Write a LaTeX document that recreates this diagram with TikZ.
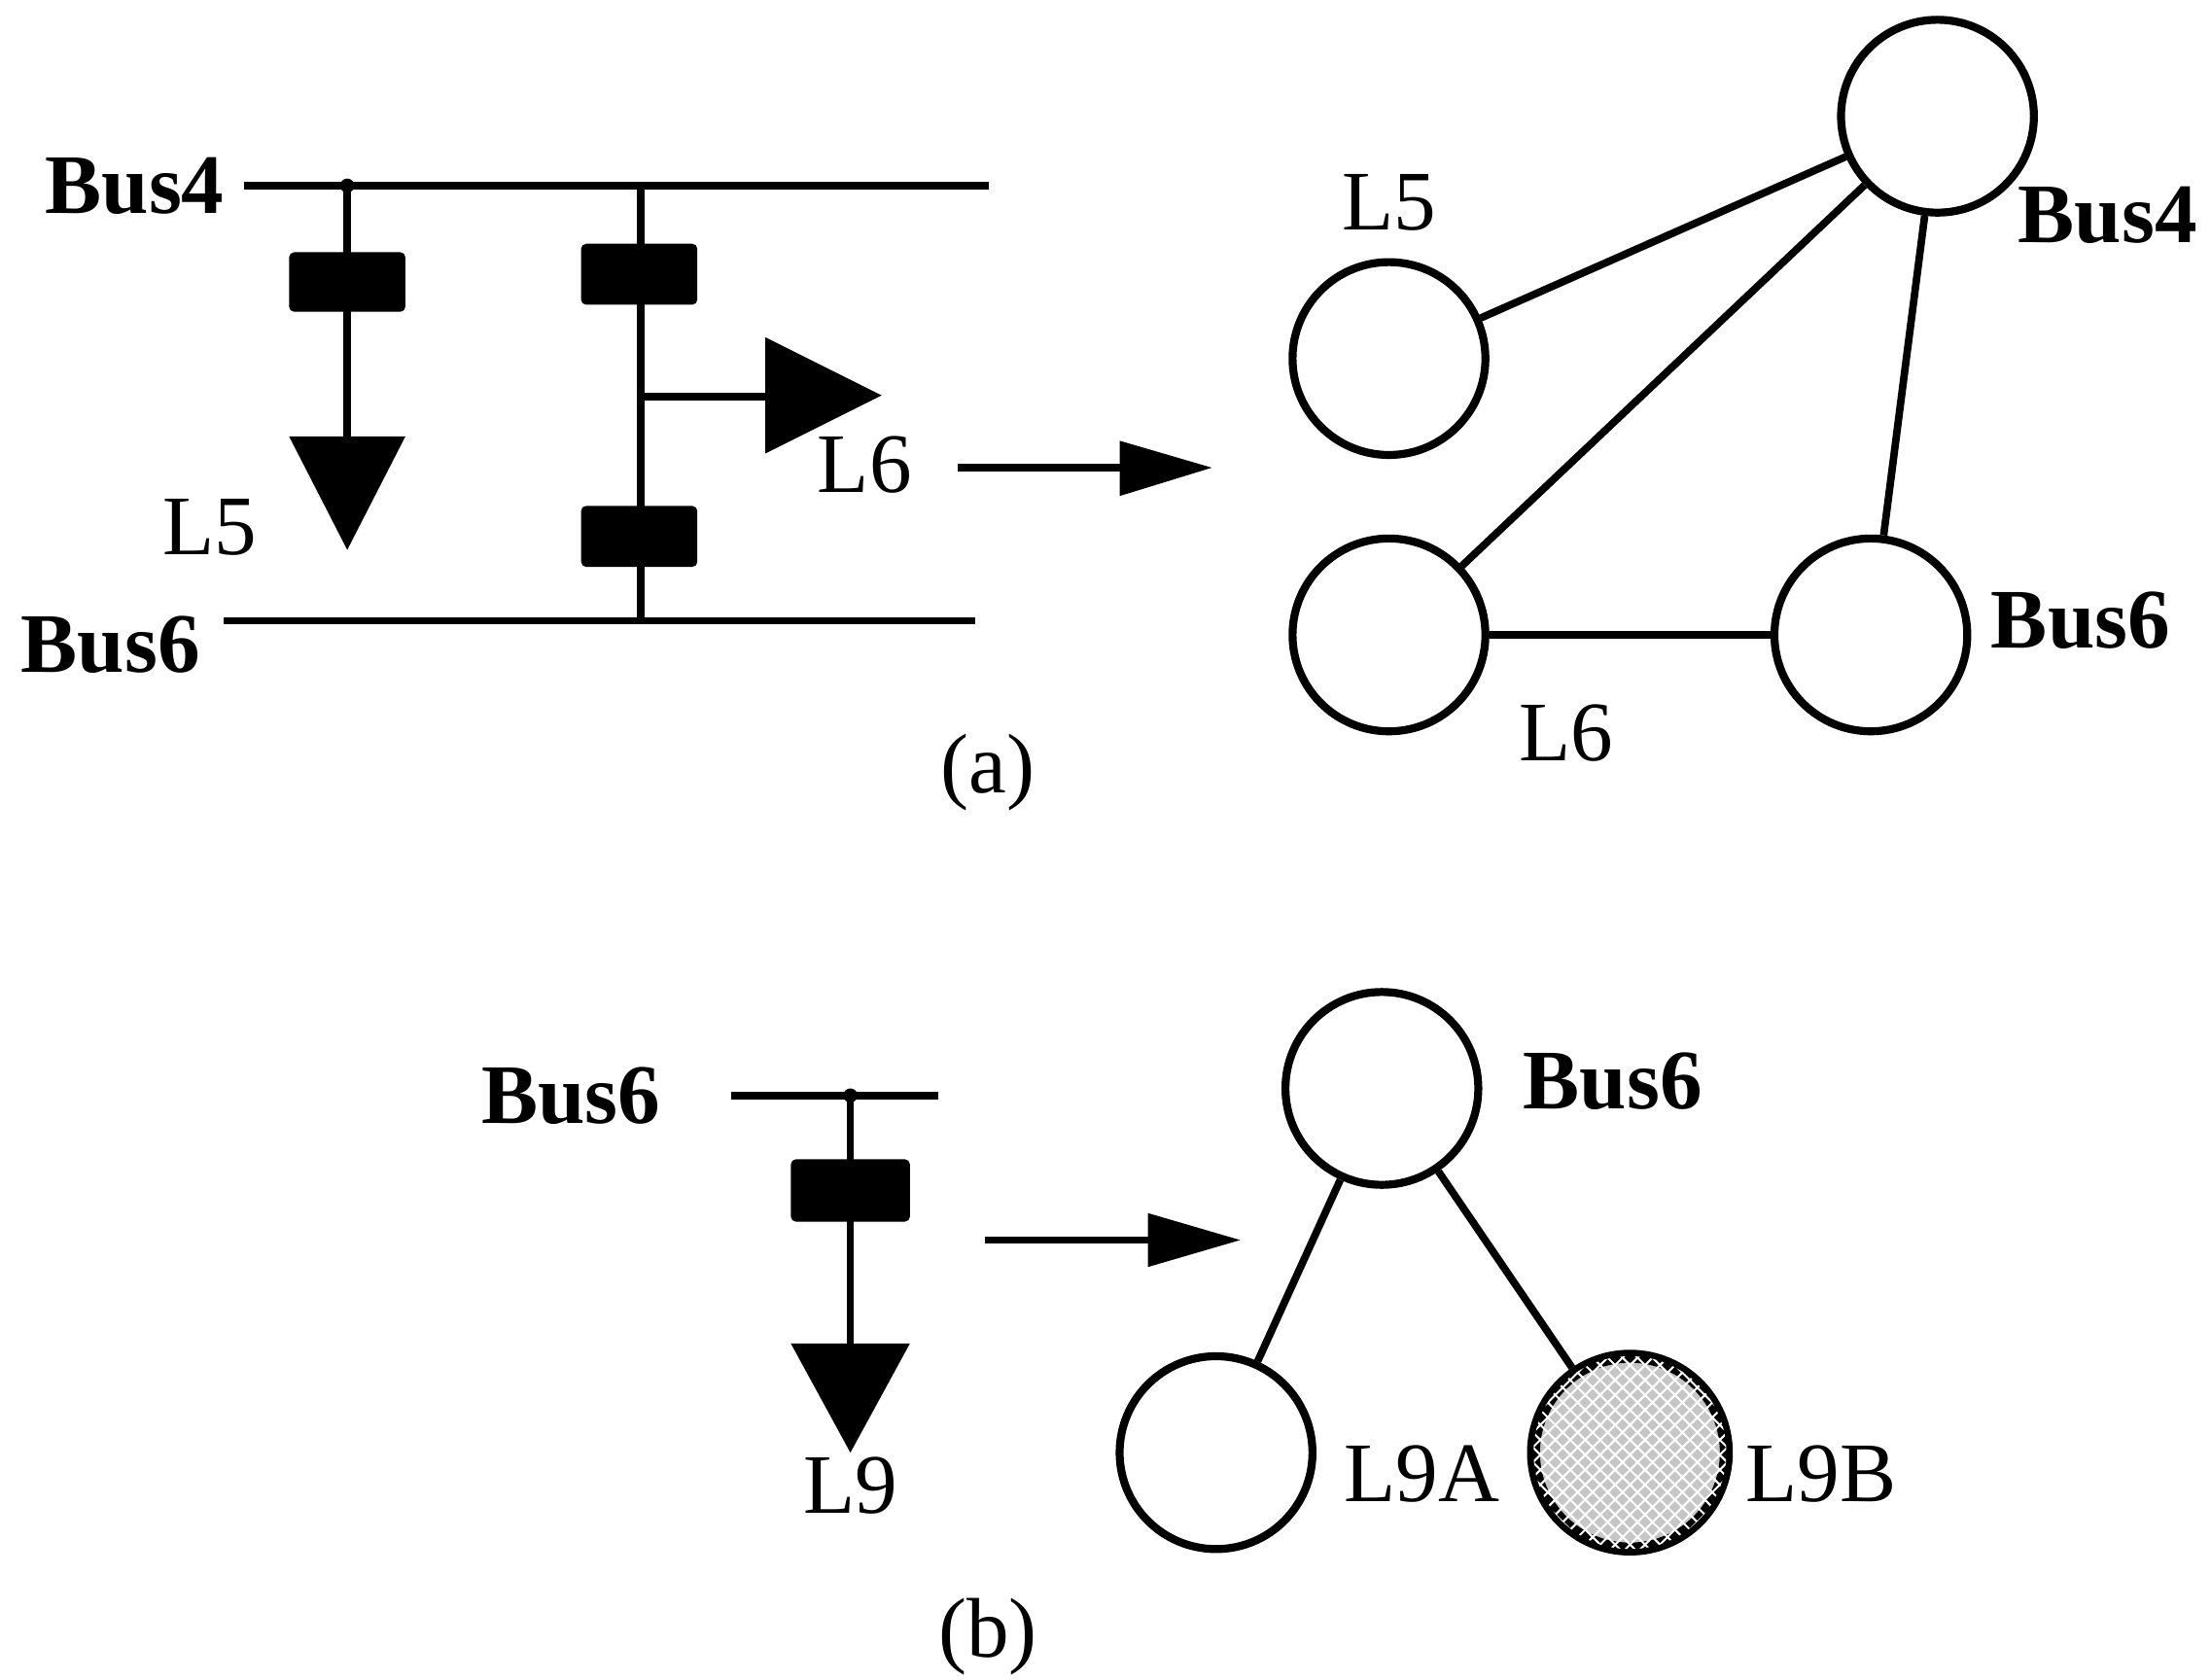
\documentclass[tikz,border=0pt]{standalone}
\usepackage{fontspec}
\setmainfont{Liberation Serif}
\usetikzlibrary{patterns}
\begin{document}
\begin{tikzpicture}[x=0.01cm,y=-0.01cm,line width=1.5pt,
  lab/.style={font=\fontsize{17}{20}\selectfont},
  blab/.style={font=\fontsize{17}{20}\selectfont\bfseries},
  nd/.style={circle,draw,line width=1.6pt,minimum size=1.36cm,inner sep=0},
  blk/.style={fill=black,rounded corners=1pt},
  tri/.style={fill=black}]
\useasboundingbox (0,0) rectangle (1560,1185);
% (a) left
\draw (172,131) -- (698,131);
\node[blab] at (95,131) {Bus4};
\fill (245,131) circle (5);
\draw (245,131) -- (245,320);
\fill[blk] (204,178) rectangle (286,220);
\fill[tri] (204,308) -- (286,308) -- (245,388) -- cycle;
\node[lab] at (148,372) {L5};
\draw (452,131) -- (452,438);
\fill[blk] (410,172) rectangle (492,215);
\fill[blk] (410,357) rectangle (492,400);
\draw (452,280) -- (550,280);
\fill[tri] (540,238) -- (540,320) -- (622,279) -- cycle;
\node[lab] at (610,328) {L6};
\draw (158,438) -- (688,438);
\node[blab] at (78,455) {Bus6};
\coordinate (a1) at (676,330); \coordinate (a2) at (855,330);
\draw (a1) -- (800,330);
\fill[tri] (790,311) -- (790,350) -- (a2) -- cycle;
% (a) graph
\node[nd] (B4) at (1367,82) {};
\node[nd] (N5) at (980,253) {};
\node[nd] (N6) at (980,448) {};
\node[nd] (B6) at (1320,448) {};
\draw (B4) -- (N5); \draw (B4) -- (N6); \draw (B4) -- (B6); \draw (N6) -- (B6);
\node[lab] at (980,143) {L5};
\node[blab] at (1487,152) {Bus4};
\node[blab] at (1468,438) {Bus6};
\node[lab] at (1105,517) {L6};
\node[lab] at (697,545) {(a)};
% (b) left
\draw (516,773) -- (662,773);
\fill (600,773) circle (5);
\node[blab] at (403,773) {Bus6};
\draw (600,773) -- (600,960);
\fill[blk] (558,818) rectangle (642,862);
\fill[tri] (558,948) -- (642,948) -- (600,1025) -- cycle;
\node[lab] at (600,1048) {L9};
\coordinate (b1) at (695,875); \coordinate (b2) at (875,875);
\draw (b1) -- (820,875);
\fill[tri] (810,856) -- (810,894) -- (b2) -- cycle;
% (b) graph
\node[nd] (C6) at (975,768) {};
\node[nd] (A9) at (858,1025) {};
\node[nd,line width=2.6pt,fill=gray!45,postaction={pattern=crosshatch,pattern color=white}] (B9) at (1150,1025) {};
\draw (C6) -- (A9); \draw (C6) -- (B9);
\node[blab] at (1138,763) {Bus6};
\node[lab] at (1003,1040) {L9A};
\node[lab] at (1285,1040) {L9B};
\node[lab] at (697,1155) {(b)};
\end{tikzpicture}
\end{document}
